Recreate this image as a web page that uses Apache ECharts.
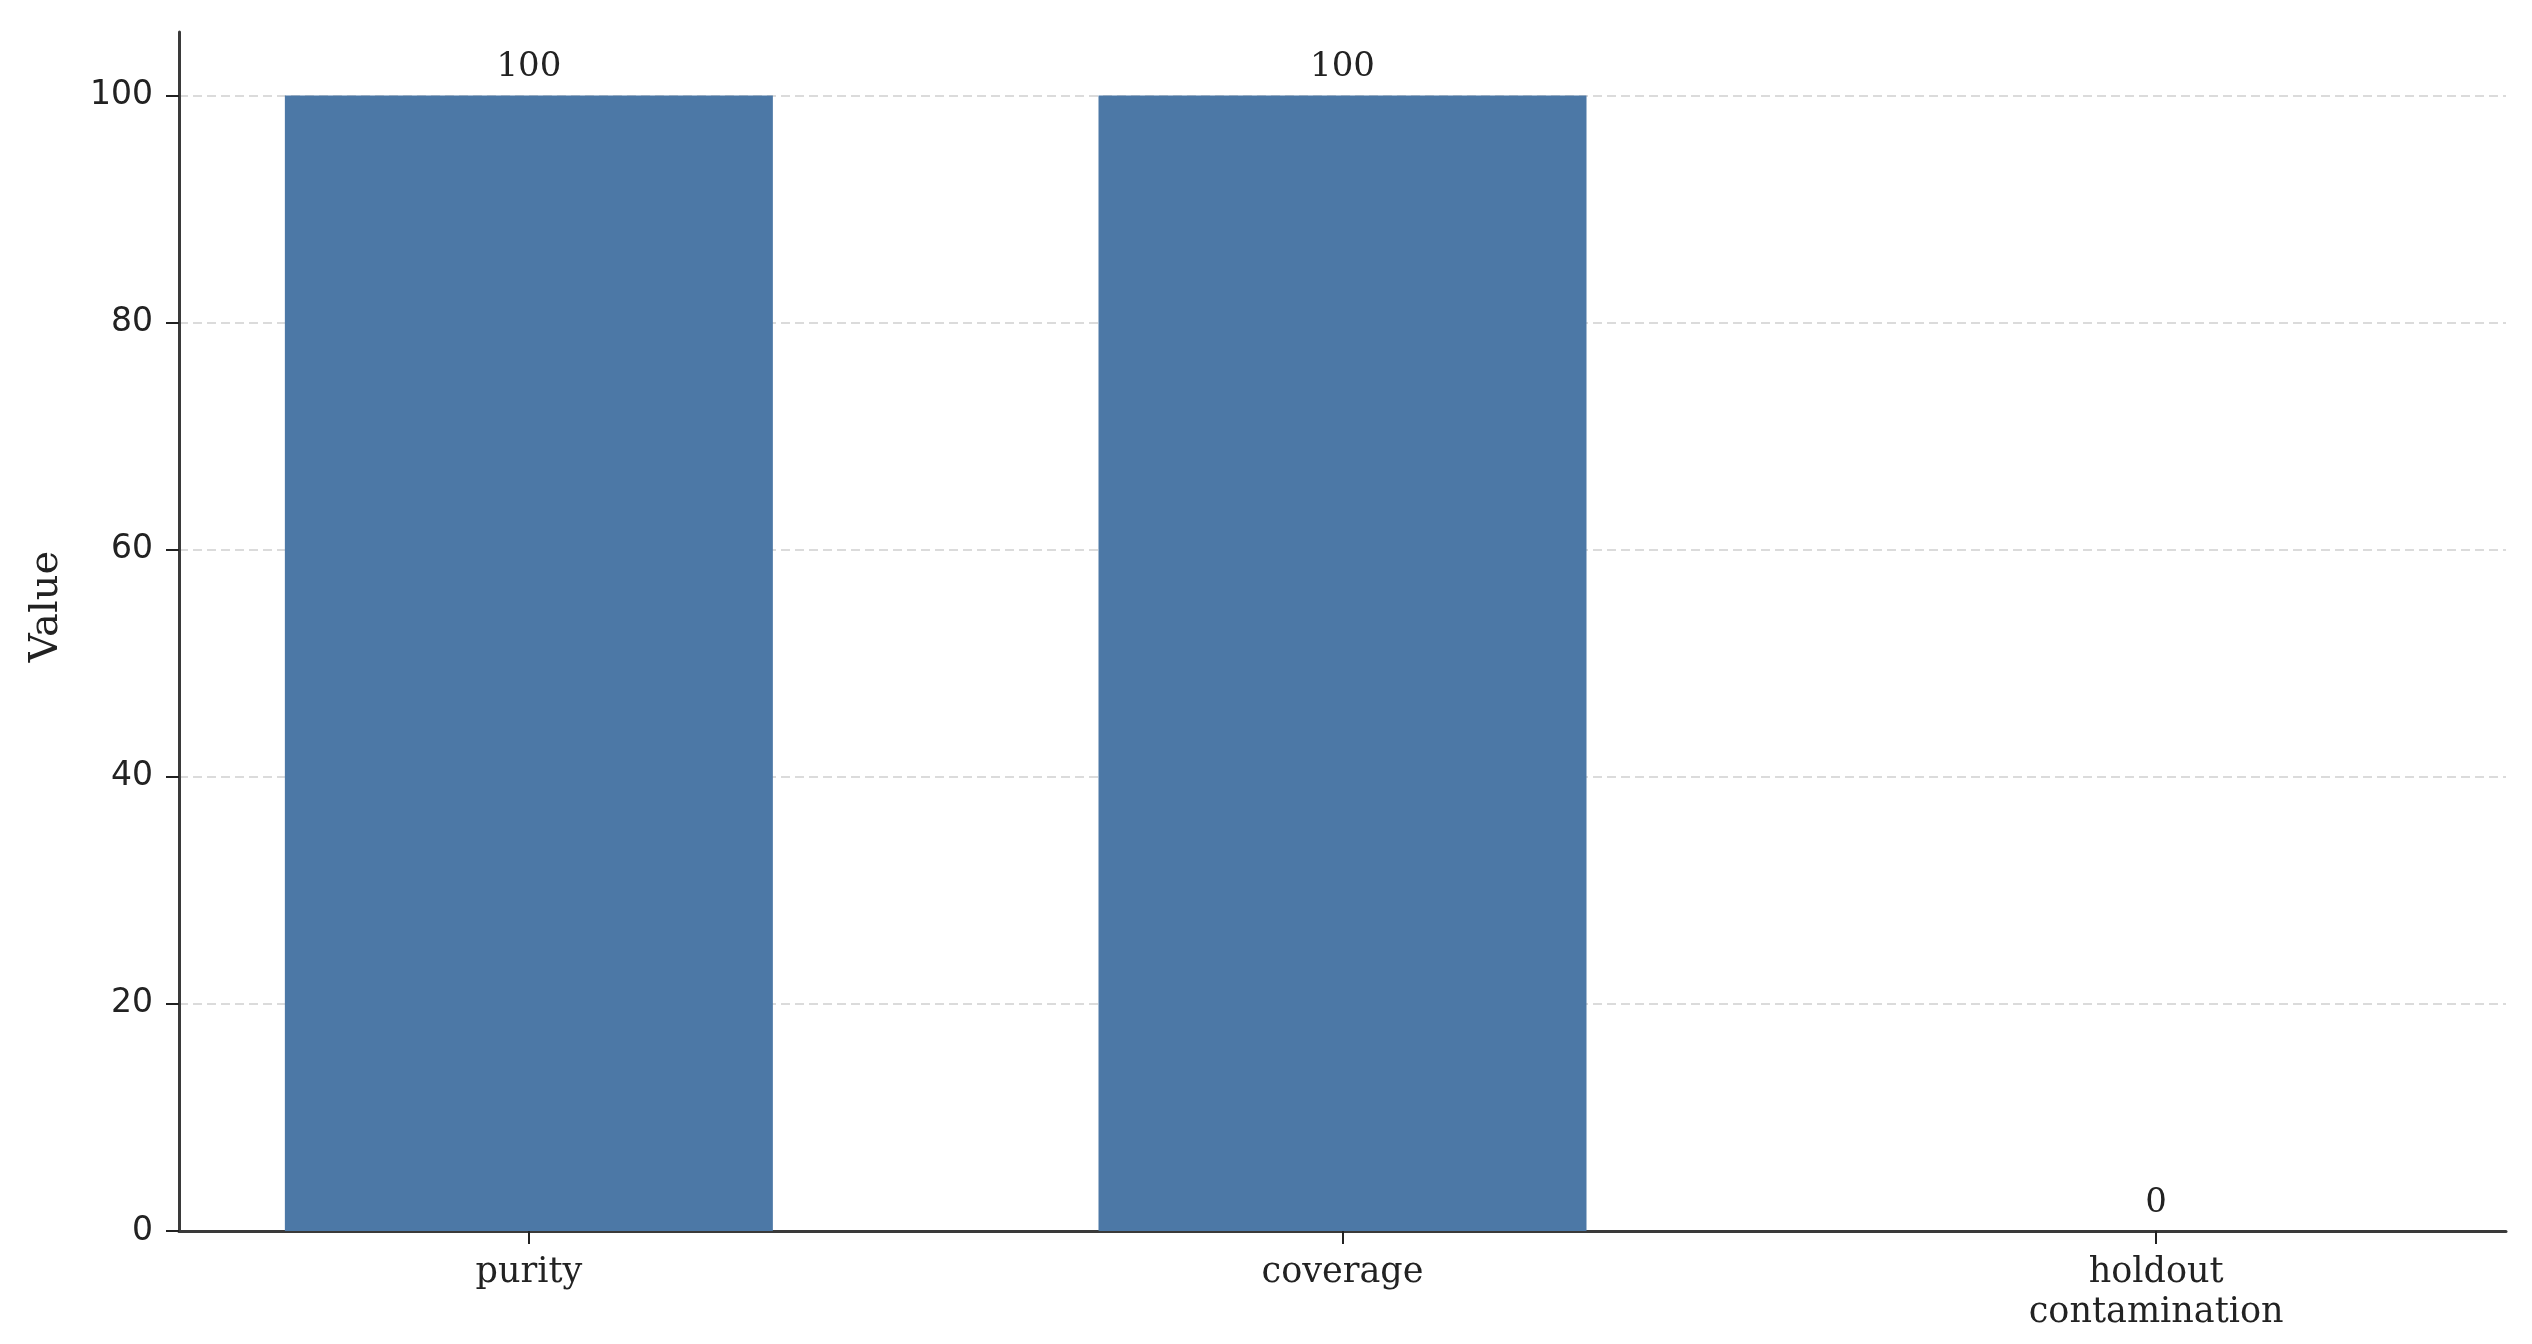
<!DOCTYPE html>
<html>
<head>
<meta charset="utf-8">
<script src="https://cdn.jsdelivr.net/npm/echarts@6/dist/echarts.min.js"></script>
<style>
html,body{margin:0;padding:0;background:#fff;}
#c{width:2532px;height:1344px;}
</style>
</head>
<body>
<div id="c"></div>
<script>
const categories = ['purity', 'coverage', 'holdout\ncontamination'];
const values = [100, 100, 0];
const yTicks = [0, 20, 40, 60, 80, 100];
const xTicks = [0, 1, 2];

const chart = echarts.init(document.getElementById('c'), null, {renderer: 'canvas'});
const barData = categories.map((c, i) => [i, values[i]]);

chart.setOption({
  animation: false,
  backgroundColor: '#ffffff',
  grid: {left: 179, right: 26, top: 32, bottom: 113, containLabel: false},
  xAxis: {
    type: 'value',
    min: -0.43,
    max: 2.43,
    splitLine: {show: false},
    axisLine: {show: true, onZero: false, lineStyle: {color: '#3a3a3a', width: 3}},
    axisTick: {show: true, customValues: xTicks, length: 13, lineStyle: {color: '#222', width: 2}},
    axisLabel: {
      customValues: xTicks,
      formatter: v => categories[Math.round(v)] || '',
      fontFamily: 'DejaVu Serif',
      fontSize: 35,
      color: '#222',
      margin: 22,
      lineHeight: 40
    }
  },
  yAxis: {
    type: 'value',
    min: 0,
    max: 105.6,
    name: 'Value',
    nameLocation: 'middle',
    nameRotate: 90,
    nameGap: 112,
    nameTextStyle: {fontFamily: 'DejaVu Serif', fontSize: 40, color: '#222', padding: [0, 0, 0, 50]},
    axisLine: {show: true, onZero: false, lineStyle: {color: '#3a3a3a', width: 3}},
    axisTick: {show: true, customValues: yTicks, length: 13, lineStyle: {color: '#222', width: 2}},
    axisLabel: {
      customValues: yTicks,
      fontFamily: 'DejaVu Sans',
      fontSize: 33,
      color: '#222',
      margin: 26
    },
    splitLine: {show: true, lineStyle: {color: '#cfcfcf', width: 1.6, type: [9, 5]}}
  },
  series: [{
    type: 'bar',
    data: barData,
    barWidth: 488,
    itemStyle: {color: '#4c78a6', borderWidth: 0},
    label: {
      show: true,
      position: 'top',
      distance: 11,
      fontFamily: 'DejaVu Serif',
      fontSize: 34,
      color: '#222'
    }
  }]
});
</script>
</body>
</html>
